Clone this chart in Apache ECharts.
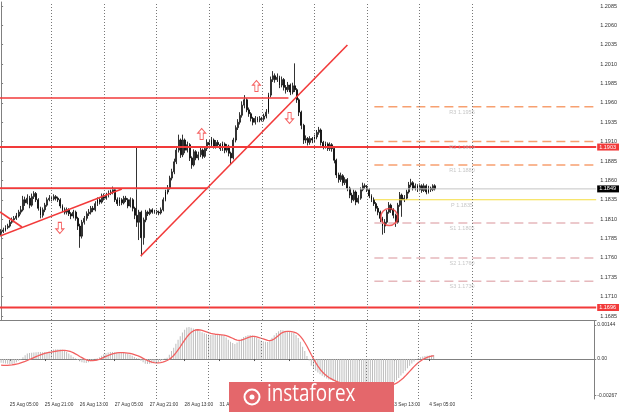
<!DOCTYPE html>
<html><head><meta charset="utf-8">
<script src="https://cdn.jsdelivr.net/npm/echarts@6/dist/echarts.min.js"></script>
<style>html,body{margin:0;padding:0;background:#fff}#c{width:620px;height:412px}</style>
</head><body><div id="c"></div>
<script>
// ---- price data (pips above BASE), hourly bars from 25 Aug 01:00 ----
const BASE = 1.17;
const firstOpen = 92;
const closePips = [94,96,99,101,106,109,111,114,119,122,
 135,131,137,128,139,143,135,124,115,122,
 128,135,137,136,139,137,135,127,122,119,
 122,117,114,119,111,101,88,106,111,117,
 119,124,122,130,135,132,140,137,141,144,
 145,148,135,130,135,131,137,135,127,135,
 124,115,106,119,86,109,119,117,122,119,
 120,119,118,122,135,145,150,163,171,184,
 199,212,193,212,199,206,189,180,197,189,
 193,199,191,201,209,206,212,204,209,206,
 201,207,199,204,195,189,212,228,235,244,
 257,264,251,246,240,235,240,238,240,239,
 243,248,270,290,295,290,293,283,290,280,
 277,283,274,282,277,264,248,231,212,214,
 209,214,212,216,222,225,209,204,207,201,
 206,201,186,167,161,166,157,161,150,141,
 135,145,132,137,148,153,152,148,140,135,
 130,124,119,111,101,106,119,128,122,115,
 106,128,141,135,137,145,154,157,150,153,
 148,153,147,153,145,150,148,153,149];
const highPips = [97,99,102,104,109,112,114,118,122,127,
 140,139,142,140,143,146,145,137,126,125,
 131,138,141,140,142,141,139,137,129,125,
 125,124,119,122,121,113,104,109,114,120,
 123,127,127,133,138,137,143,143,144,147,
 148,152,150,138,138,137,140,140,137,138,
 137,126,203,122,121,112,122,121,124,124,
 122,122,121,125,138,148,154,166,175,188,
 203,219,214,219,214,210,208,191,200,199,
 197,203,201,204,213,212,216,214,212,212,
 208,210,209,207,206,197,215,231,239,248,
 262,270,266,254,248,242,243,242,243,242,
 246,252,273,294,301,298,298,295,294,292,
 283,287,285,286,311,279,266,250,233,218,
 216,217,216,219,225,229,227,211,210,209,
 209,208,203,188,170,170,168,164,163,152,
 144,148,147,141,151,157,156,154,150,142,
 138,132,127,121,113,110,122,132,130,124,
 117,131,145,143,141,148,158,162,159,156,
 155,156,155,156,155,153,152,155,155];
const lowPips = [89,92,94,97,99,104,106,109,112,116,
 120,127,129,124,126,136,132,121,111,112,
 119,126,133,133,134,134,132,124,119,116,
 116,114,110,111,108,96,73,85,103,108,
 114,116,119,120,127,129,130,134,135,138,
 141,142,132,127,127,128,129,132,124,125,
 120,110,100,83,62,77,106,114,115,117,
 117,116,115,116,120,133,142,148,160,168,
 181,196,189,190,195,196,185,175,178,186,
 186,190,188,189,198,203,203,201,201,203,
 198,198,195,196,191,181,187,209,225,232,
 241,253,248,242,236,231,232,235,235,236,
 236,240,246,267,287,286,287,279,280,276,
 272,274,270,271,274,260,243,226,207,208,
 205,206,208,209,213,219,205,200,201,198,
 198,197,182,163,157,158,153,154,146,137,
 131,133,128,130,135,146,149,145,137,132,
 127,120,115,106,90,92,104,117,118,111,
 100,104,126,113,132,135,143,151,147,147,
 145,146,144,145,142,143,145,146,147];
// ---- MACD (in pips, 0.0001) ----
const macdPips = [-1.6,-1.8,-1.9,-2.0,-2.1,-2.1,-1.8,-1.3,-0.7,-0.2,
 0.8,1.6,2.3,2.6,2.7,2.8,2.9,3.0,3.0,2.9,
 3.0,3.0,3.2,3.6,4.0,4.2,4.2,4.1,3.9,3.6,
 3.0,2.3,1.6,0.9,0.3,-0.3,-0.9,-1.3,-1.6,-1.7,
 -1.4,-0.9,-0.4,0.1,0.3,0.8,1.4,2.0,2.5,2.8,
 3.0,3.0,2.9,2.8,2.7,2.6,2.6,2.5,2.2,1.9,
 1.4,0.9,0.4,0.2,-0.7,-1.4,-2.0,-2.1,-2.0,-1.8,
 -1.6,-1.4,-1.3,-0.9,-0.4,0.2,0.6,1.8,3.4,4.8,
 6.5,8.2,9.6,11.2,12.4,13.3,13.6,13.2,12.9,12.6,
 12.3,11.8,11.3,10.9,10.6,10.3,10.2,10.2,10.3,10.3,
 10.2,10.2,9.8,9.1,8.2,7.3,6.8,6.4,7.0,7.8,
 8.6,9.3,9.8,10.1,10.2,10.0,9.6,9.0,8.4,7.9,
 7.5,7.3,7.2,7.9,9.0,10.1,11.0,11.8,12.3,12.2,
 12.0,11.7,11.4,11.2,11.0,10.2,8.9,7.3,5.2,3.4,
 1.3,-0.6,-2.8,-4.0,-4.9,-5.7,-6.4,-7.1,-7.7,-8.2,
 -8.6,-8.9,-9.3,-9.8,-10.5,-11.0,-11.4,-11.8,-12.1,-12.5,
 -12.8,-12.9,-13.0,-12.8,-12.4,-12.0,-11.6,-11.3,-11.1,-11.0,
 -11.0,-11.1,-11.2,-11.4,-11.6,-11.5,-11.2,-10.8,-10.4,-10.1,
 -9.8,-9.0,-8.0,-7.0,-6.0,-5.0,-3.9,-2.8,-1.9,-1.0,
 -0.2,0.4,0.8,1.1,1.3,1.4,1.5,1.6,1.7];
const signalPips = [-2.6,-2.7,-2.7,-2.7,-2.6,-2.5,-2.3,-2.1,-1.9,-1.6,
 -1.3,-1.0,-0.6,-0.2,0.2,0.6,1.0,1.4,1.8,2.1,
 2.4,2.6,2.8,2.9,3.1,3.3,3.5,3.6,3.7,3.7,
 3.6,3.4,3.1,2.7,2.2,1.7,1.1,0.6,0.1,-0.3,
 -0.6,-0.7,-0.7,-0.6,-0.4,-0.1,0.3,0.7,1.1,1.5,
 1.9,2.2,2.4,2.6,2.7,2.7,2.7,2.6,2.5,2.4,
 2.2,1.9,1.6,1.2,0.8,0.3,-0.2,-0.6,-1.0,-1.3,
 -1.5,-1.6,-1.6,-1.5,-1.3,-1.0,-0.6,-0.1,0.6,1.5,
 2.6,3.9,5.2,6.6,8.0,9.3,10.4,11.3,11.9,12.3,
 12.4,12.3,12.1,11.8,11.5,11.2,10.9,10.7,10.5,10.4,
 10.3,10.2,10.1,9.9,9.6,9.2,8.8,8.3,8.0,7.9,
 8.0,8.3,8.7,9.1,9.4,9.6,9.6,9.4,9.1,8.8,
 8.5,8.2,7.9,7.8,8.0,8.5,9.2,10.0,10.8,11.3,
 11.6,11.7,11.7,11.6,11.4,11.1,10.5,9.6,8.4,7.0,
 5.4,3.6,1.8,0.1,-1.5,-3.0,-4.3,-5.4,-6.3,-7.1,
 -7.8,-8.3,-8.8,-9.2,-9.6,-10.0,-10.4,-10.8,-11.2,-11.6,
 -11.9,-12.2,-12.4,-12.5,-12.5,-12.4,-12.2,-12.0,-11.8,-11.6,
 -11.4,-11.3,-11.2,-11.2,-11.2,-11.3,-11.3,-11.2,-11.1,-10.9,
 -10.6,-10.2,-9.6,-8.9,-8.1,-7.2,-6.2,-5.2,-4.2,-3.2,
 -2.3,-1.5,-0.8,-0.2,0.3,0.7,1.0,1.2,1.4];
// ---- axes / ticks ----
const dayNames = ['25 Aug','26 Aug','27 Aug','28 Aug','31 Aug','1 Sep','2 Sep','3 Sep','4 Sep','7 Sep','8 Sep','9 Sep'];
const priceTicks = [1.1685,1.1710,1.1735,1.1760,1.1785,1.1810,1.1835,1.1860,1.1885,1.1910,1.1935,1.1960,1.1985,1.2010,1.2035,1.2060,1.2085];
const macdTicks = [0.00144, 0, -0.00153];
const macdTickText = ['0.00144','0.00','-0.00267'];
// ---- annotations (x in bar index units, y in price) ----
const levelLines = [ {v:1.1903, color:'#f23a3a', w:2, label:'1.1903', bg:'#f23a3a'},
                     {v:1.1696, color:'#f23a3a', w:2, label:'1.1696', bg:'#f23a3a'},
                     {v:1.1849, color:'#c4c4c4', w:1, label:'1.1849', bg:'#000000'} ];
const trendLines = [ [[-0.5,1.18192],[9.5,1.17998]],
                     [[-0.5,1.17882],[55.1,1.18489]],
                     [[63.7,1.17624],[158.0,1.20347]],
                     [[-0.5,1.19663],[131.1,1.19663]],
                     [[-0.5,1.18500],[94.2,1.18500]] ];
const pivotNames = ['R3','R2','R1','P','S1','S2','S3'];
const pivotValues = [1.1955,1.1910,1.1880,1.1835,1.1805,1.1760,1.1730];
const pivotStart = 170.3, pivotEnd = 271.5, pivotLabelAt = 210.3;
const arrowsUp = [[91.5,1.19198],[116.5,1.19818]];
const arrowsDown = [[26.8,1.17986],[131.6,1.19405]];
const circleMark = [[177.1,1.18127]];

const NCAT = 272;
const categories = [];
for (let d = 0; d < dayNames.length && categories.length < NCAT; d++)
  for (let h = (d === 0 ? 1 : 0); h < 24 && categories.length < NCAT; h++)
    categories.push(dayNames[d] + ' ' + String(h).padStart(2,'0') + ':00');
const dayLineIdx = [];
categories.forEach((c,i)=>{ if (c.endsWith(' 00:00') && i <= 215) dayLineIdx.push(i); });

const candles = closePips.map((c,i)=>{
  const o = i === 0 ? firstOpen : closePips[i-1];
  return [BASE+o/1e4, BASE+c/1e4, BASE+lowPips[i]/1e4, BASE+highPips[i]/1e4];
});
const macd = macdPips.map(v=>v/1e4);
const signal = signalPips.map(v=>v/1e4);

const FONT = 'Liberation Sans, Arial, sans-serif';
const labelIntervalFn = (idx)=> idx <= 196 && idx >= 4 && (idx-4) % 16 === 0;
const dayLineStyle = {color:'#777', type:[1,2], width:1};
const RED = '#f23a3a';

const series = [];
series.push({
  type:'candlestick', xAxisIndex:0, yAxisIndex:0, data:candles, barWidth:1.4,
  itemStyle:{color:'#ffffff', color0:'#000000', borderColor:'#000000', borderColor0:'#000000', borderWidth:0.8},
  markLine:{silent:true, symbol:['none','none'], animation:false, label:{show:false},
    data: dayLineIdx.map(i=>({xAxis:i, lineStyle:dayLineStyle}))}
});
levelLines.forEach(l=>{
  series.push({type:'line', xAxisIndex:2, yAxisIndex:0, data:[[-0.5,l.v],[NCAT-0.5,l.v]], symbol:'none', silent:true,
    lineStyle:{color:l.color, width:l.w}, z:4,
    endLabel:{show:true, formatter:l.label, color:'#fff', backgroundColor:l.bg, fontSize:5.5, fontFamily:FONT,
      padding:[1,3,0,2], distance:1}});
});
trendLines.forEach(seg=>{
  series.push({type:'line', xAxisIndex:2, yAxisIndex:0, data:seg, symbol:'none', silent:true,
    lineStyle:{color:RED, width:1.6}, z:5});
});
pivotValues.forEach((v,k)=>{
  const isR = pivotNames[k][0] === 'R', isP = pivotNames[k] === 'P';
  series.push({type:'line', xAxisIndex:2, yAxisIndex:0, data:[[pivotStart,v],[pivotEnd,v]], symbol:'none', silent:true,
    lineStyle: isP ? {color:'#f5dd3c', width:1.2} : {color: isR ? '#f7a070' : '#e6b8bc', width:1.5, type:[9,5]}, z:3});
});
series.push({type:'scatter', xAxisIndex:2, yAxisIndex:0, symbolSize:1, silent:true,
  itemStyle:{color:'rgba(0,0,0,0)'},
  data: pivotValues.map((v,k)=>[pivotLabelAt, v, pivotNames[k] + ' ' + v.toFixed(4)]),
  label:{show:true, position:'bottom', distance:2, formatter:p=>p.value[2], color:'#b8b8b8', fontSize:5.5, fontFamily:FONT}, z:4});
const upPath = 'path://M5,0 L10,5 L7,5 L7,12 L3,12 L3,5 L0,5 Z';
series.push({type:'scatter', xAxisIndex:2, yAxisIndex:0, data:arrowsUp, symbol:upPath, symbolSize:[8,11], silent:true,
  itemStyle:{color:'#fff', borderColor:RED, borderWidth:1}, z:6});
series.push({type:'scatter', xAxisIndex:2, yAxisIndex:0, data:arrowsDown, symbol:upPath, symbolRotate:180, symbolSize:[8,11], silent:true,
  itemStyle:{color:'#fff', borderColor:RED, borderWidth:1}, z:6});
series.push({type:'scatter', xAxisIndex:2, yAxisIndex:0, data:circleMark, symbol:'circle', symbolSize:17, silent:true,
  itemStyle:{color:'rgba(0,0,0,0)', borderColor:RED, borderWidth:1.6}, z:6});
series.push({type:'bar', xAxisIndex:1, yAxisIndex:1, data:macd, barWidth:1, itemStyle:{color:'#bdbdbd'}, silent:true,
  markLine:{silent:true, symbol:['none','none'], animation:false, label:{show:false},
    data: dayLineIdx.map(i=>({xAxis:i, lineStyle:dayLineStyle}))}});
series.push({type:'line', xAxisIndex:1, yAxisIndex:1, data:signal, symbol:'none', silent:true,
  lineStyle:{color:'#f26060', width:1.3}});

const chart = echarts.init(document.getElementById('c'), null, {renderer:'canvas'});
chart.setOption({
  animation:false,
  backgroundColor:'#ffffff',
  grid:[{left:0, right:22.7, top:2, height:318},
        {left:0, right:22.7, top:321, height:78}],
  xAxis:[
    {type:'category', gridIndex:0, data:categories, boundaryGap:true,
     axisLine:{show:true, lineStyle:{color:'#808080'}}, axisTick:{show:false}, axisLabel:{show:false}, splitLine:{show:false}},
    {type:'category', gridIndex:1, data:categories, boundaryGap:true,
     axisLine:{show:true, lineStyle:{color:'#808080'}},
     axisTick:{show:true, interval:labelIntervalFn, alignWithLabel:true, length:2, lineStyle:{color:'#555'}},
     axisLabel:{show:true, interval:labelIntervalFn, align:'left', fontSize:4.8, color:'#333', fontFamily:FONT, margin:3,
       formatter:v=>v}, splitLine:{show:false}},
    {type:'value', gridIndex:0, min:-0.5, max:NCAT-0.5, show:false}
  ],
  yAxis:[
    {type:'value', gridIndex:0, position:'right', min:1.167984, max:1.209016,
     axisLine:{show:true, lineStyle:{color:'#808080'}},
     axisTick:{show:true, length:2, customValues:priceTicks, lineStyle:{color:'#808080'}},
     axisLabel:{show:true, customValues:priceTicks, formatter:v=>v.toFixed(4), fontSize:5.5, color:'#333', fontFamily:FONT, margin:4},
     splitLine:{show:false}},
    {type:'value', gridIndex:1, position:'right', min:-0.00169, max:0.00161,
     axisLine:{show:true, lineStyle:{color:'#808080'}},
     axisTick:{show:true, length:2, customValues:macdTicks, lineStyle:{color:'#808080'}},
     axisLabel:{show:true, customValues:macdTicks, formatter:v=>macdTickText[macdTicks.indexOf(v)] ?? '',
       fontSize:5, color:'#333', fontFamily:FONT, margin:3},
     splitLine:{show:false}}
  ],
  series: series,
  graphic:[
    {type:'rect', z:100, shape:{x:229, y:382, width:165, height:31}, style:{fill:'#e4676b'}},
    {type:'circle', z:101, shape:{cx:252, cy:397, r:7.5}, style:{fill:'none', stroke:'#ffffff', lineWidth:2}},
    {type:'circle', z:101, shape:{cx:252, cy:397, r:2.5}, style:{fill:'#ffffff'}},
    {type:'text', z:101, x:267, y:383, scaleX:0.82, style:{text:'instaforex', fill:'#ffffff', font:'23px "Open Sans", "Liberation Sans", sans-serif'}}
  ]
});
</script>
</body></html>
